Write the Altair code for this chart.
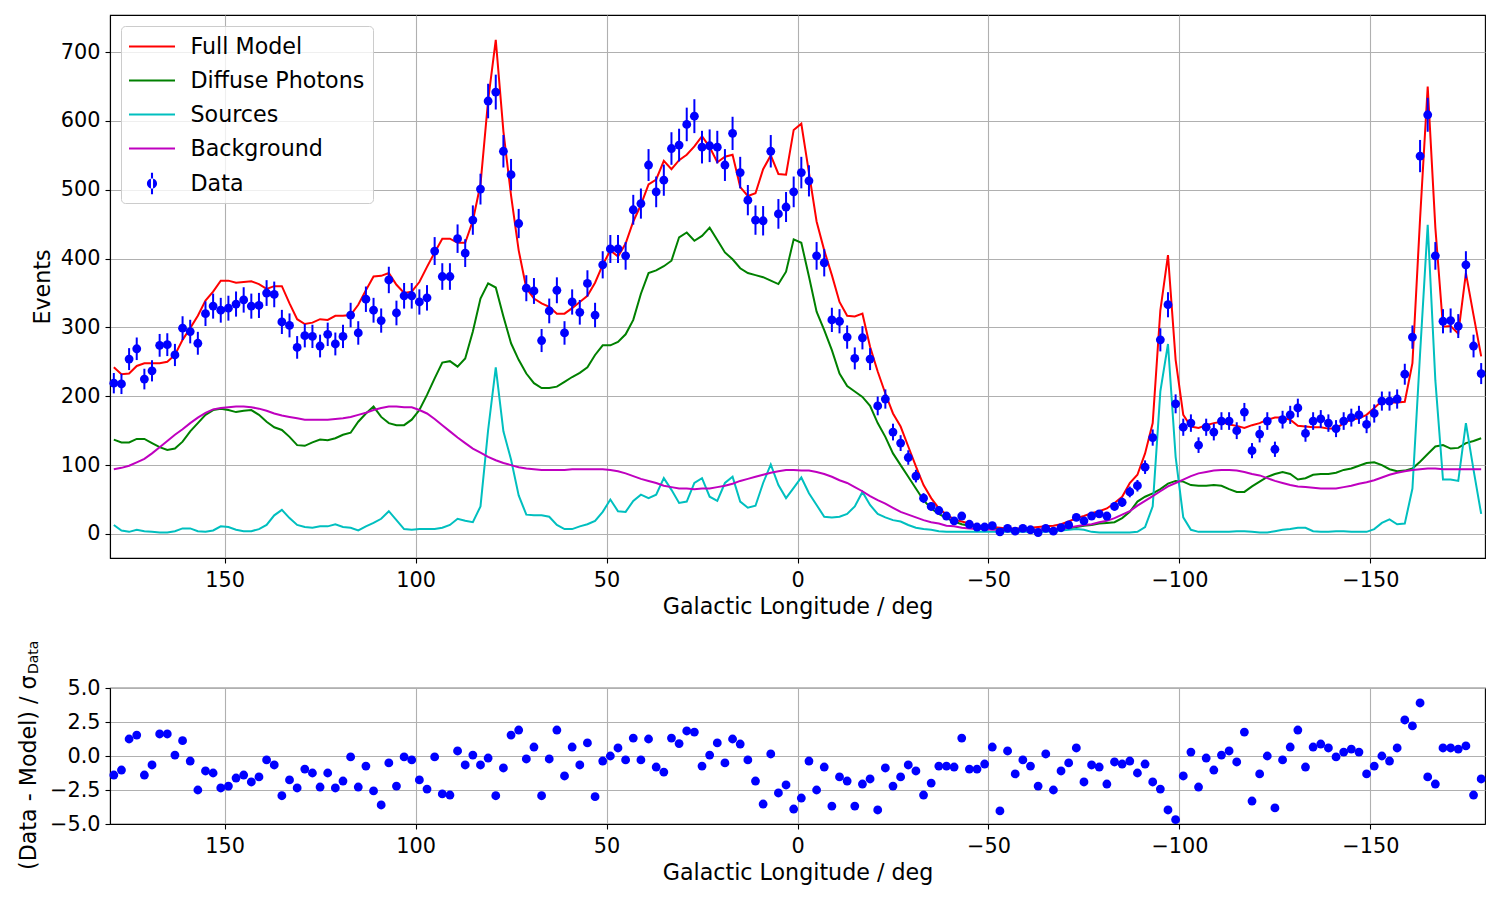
import altair as alt
import pandas as pd

FONT = "DejaVu Sans"

# Galactic longitude bin centres (deg), from +179 down to -179 in 2-degree steps
lon = list(range(179, -180, -2))

# Observed counts per bin (rows of 10 bins)
data_counts = [
    219, 218, 254, 269, 225, 237, 274, 275, 260, 299,
    294, 277, 320, 331, 325, 328, 334, 340, 331, 332,
    350, 348, 308, 303, 271, 288, 287, 273, 290, 276,
    287, 318, 292, 341, 325, 310, 369, 321, 346, 346,
    337, 343, 411, 374, 374, 429, 408, 456, 501, 629,
    642, 556, 522, 451, 357, 353, 281, 324, 354, 292,
    337, 322, 364, 318, 391, 414, 414, 404, 471, 480,
    536, 497, 514, 560, 565, 595, 607, 562, 564, 562,
    536, 582, 525, 485, 456, 455, 556, 465, 475, 497,
    525, 513, 404, 394, 311, 309, 286, 255, 285, 254,
    186, 196, 148, 132, 111, 84, 52, 40, 34, 26,
    19, 26, 14, 10, 10, 12, 3, 8, 4, 8,
    6, 2, 8, 4, 9, 13, 24, 19, 26, 29,
    26, 40, 46, 61, 70, 97, 140, 282, 333, 189,
    155, 161, 129, 155, 148, 164, 164, 150, 177, 121,
    145, 164, 123, 166, 173, 183, 146, 164, 167, 161,
    153, 164, 169, 173, 159, 175, 193, 193, 196, 232,
    286, 549, 609, 404, 309, 310, 302, 391, 273, 233,
]

full_model = [
    242, 232, 233, 244, 248, 248, 248, 250, 260, 282,
    299, 317, 339, 352, 368, 368, 365, 366, 367, 363,
    356, 360, 360, 335, 312, 305, 307, 312, 311, 317,
    317, 318, 333, 354, 374, 375, 379, 362, 350, 352,
    366, 388, 409, 429, 429, 423, 423, 455, 508, 630,
    718, 585, 492, 412, 357, 342, 335, 330, 320, 320,
    328, 337, 346, 365, 391, 412, 403, 422, 454, 478,
    508, 515, 542, 530, 543, 551, 563, 578, 562, 540,
    548, 551, 504, 491, 495, 530, 550, 523, 522, 587,
    596, 525, 454, 412, 376, 337, 317, 316, 320, 272,
    236, 204, 175, 156, 127, 98, 71, 52, 37, 28,
    21, 18, 15, 12, 11, 10, 9, 8, 8, 8,
    9, 10, 11, 12, 14, 18, 23, 26, 30, 33,
    37, 45, 54, 74, 86, 117, 161, 325, 405, 253,
    173, 156, 154, 158, 161, 163, 159, 157, 154, 158,
    161, 166, 169, 169, 166, 157, 156, 155, 155, 153,
    153, 161, 166, 168, 173, 183, 193, 191, 191, 192,
    248, 458, 650, 445, 301, 302, 291, 379, 318, 258,
]

diffuse = [
    137, 133, 133, 138, 138, 132, 126, 122, 124, 134,
    149, 161, 173, 180, 182, 180, 177, 179, 180, 173,
    163, 155, 151, 141, 129, 128, 133, 137, 136, 139,
    144, 147, 163, 175, 185, 170, 161, 158, 158, 166,
    180, 202, 226, 249, 251, 243, 255, 294, 342, 364,
    358, 316, 277, 253, 233, 219, 212, 212, 214, 221,
    228, 234, 242, 260, 274, 274, 279, 290, 311, 349,
    379, 383, 389, 397, 431, 438, 426, 433, 445, 427,
    409, 399, 386, 379, 376, 373, 368, 363, 381, 428,
    423, 374, 323, 296, 267, 233, 215, 207, 199, 186,
    161, 141, 117, 100, 83, 66, 49, 37, 29, 23,
    18, 14, 12, 10, 8, 7, 7, 6, 6, 6,
    6, 6, 6, 6, 7, 8, 10, 12, 13, 15,
    16, 17, 23, 32, 47, 54, 59, 65, 73, 77,
    76, 71, 70, 70, 71, 70, 65, 61, 61, 69,
    76, 83, 87, 90, 87, 79, 81, 86, 87, 87,
    89, 93, 95, 99, 103, 104, 100, 94, 91, 92,
    95, 105, 116, 127, 129, 124, 125, 132, 135, 139,
]

sources = [
    13, 5, 3, 6, 4, 3, 2, 2, 4, 8,
    8, 4, 3, 5, 11, 10, 6, 4, 4, 7,
    13, 27, 35, 23, 13, 10, 9, 11, 11, 14,
    10, 9, 5, 11, 16, 22, 33, 20, 7, 6,
    7, 7, 7, 9, 13, 22, 19, 17, 40, 151,
    242, 149, 108, 56, 28, 27, 27, 25, 13, 7,
    7, 11, 14, 19, 32, 50, 33, 32, 48, 57,
    52, 57, 81, 64, 45, 47, 74, 81, 54, 48,
    74, 83, 47, 38, 41, 74, 101, 71, 52, 67,
    82, 59, 42, 25, 24, 25, 29, 40, 61, 42,
    29, 24, 20, 18, 13, 9, 7, 6, 4, 3,
    3, 3, 3, 3, 3, 3, 3, 3, 3, 3,
    3, 3, 3, 4, 5, 6, 7, 6, 3, 2,
    2, 2, 2, 2, 3, 10, 40, 207, 276, 112,
    24, 6, 3, 3, 3, 3, 3, 4, 4, 3,
    2, 2, 4, 6, 7, 9, 9, 4, 3, 3,
    4, 4, 3, 3, 3, 7, 16, 21, 14, 15,
    66, 262, 449, 223, 79, 79, 77, 161, 93, 29,
]

background = [
    94, 96, 99, 104, 109, 117, 126, 135, 144, 152,
    161, 169, 176, 181, 183, 184, 185, 185, 184, 182,
    179, 175, 172, 170, 168, 166, 166, 166, 166, 167,
    168, 170, 173, 176, 180, 183, 185, 185, 184, 184,
    180, 175, 167, 158, 149, 140, 132, 124, 118, 112,
    107, 103, 100, 97, 95, 94, 93, 93, 93, 93,
    94, 94, 94, 94, 94, 93, 91, 88, 84, 80,
    77, 74, 70, 68, 66, 66, 65, 66, 66, 68,
    70, 73, 77, 80, 83, 86, 89, 91, 93, 93,
    92, 92, 90, 87, 83, 78, 74, 68, 62, 55,
    49, 44, 38, 32, 28, 24, 20, 17, 15, 12,
    11, 9, 8, 7, 7, 6, 6, 6, 6, 6,
    6, 6, 7, 7, 8, 9, 11, 13, 14, 17,
    19, 23, 28, 33, 41, 48, 55, 62, 69, 74,
    79, 84, 88, 90, 92, 93, 93, 92, 90, 87,
    85, 81, 77, 74, 71, 69, 68, 67, 66, 66,
    66, 68, 70, 73, 75, 78, 82, 86, 89, 91,
    93, 94, 95, 95, 94, 94, 94, 94, 94, 94,
]

# (Data - Model) / sigma_Data per bin
residuals = [
    -1.40, -1.03, 1.25, 1.54, -1.40, -0.66, 1.62, 1.62, 0.07, 1.13,
    -0.37, -2.50, -1.10, -1.25, -2.35, -2.21, -1.62, -1.40, -1.91, -1.54,
    -0.29, -0.66, -2.92, -1.76, -2.35, -0.96, -1.25, -2.28, -1.25, -2.35,
    -1.84, -0.07, -2.28, -0.74, -2.57, -3.60, -0.51, -2.21, -0.07, -0.29,
    -1.76, -2.43, -0.07, -2.79, -2.87, 0.37, -0.66, 0.07, -0.66, -0.15,
    -2.92, -0.88, 1.54, 1.91, -0.22, 0.66, -2.92, -0.22, 1.91, -1.47,
    0.66, -0.66, 0.96, -2.99, -0.37, 0.00, 0.59, -0.29, 1.32, -0.29,
    1.25, -0.81, -1.18, 1.32, 0.91, 1.84, 1.76, -0.74, 0.07, 0.96,
    -0.51, 1.25, 0.88, -0.29, -1.84, -3.53, 0.15, -2.72, -2.13, -3.90,
    -3.09, -0.37, -2.50, -0.81, -3.68, -1.54, -1.84, -3.68, -2.06, -1.69,
    -3.97, -0.88, -2.21, -1.54, -0.66, -1.10, -2.87, -1.99, -0.74, -0.74,
    -0.81, 1.32, -0.96, -0.96, -0.59, 0.66, -4.04, 0.37, -1.32, -0.29,
    -0.74, -2.21, 0.15, -2.50, -1.10, -0.51, 0.59, -1.91, -0.66, -0.81,
    -2.06, -0.44, -0.59, -0.37, -1.25, -0.59, -1.91, -2.43, -3.97, -4.68,
    -1.47, 0.29, -2.28, -0.15, -1.03, 0.07, 0.37, -0.44, 1.76, -3.31,
    -1.32, 0.00, -3.82, -0.29, 0.66, 1.91, -0.81, 0.66, 0.88, 0.59,
    -0.07, 0.29, 0.51, 0.29, -1.32, -0.74, 0.00, -0.37, 0.59, 2.65,
    2.21, 3.90, -1.54, -2.06, 0.59, 0.59, 0.51, 0.74, -2.87, -1.69,
]

line_names = ["Full Model", "Diffuse Photons", "Sources", "Background"]
line_colors = ["#ff0000", "#008000", "#00bfbf", "#bf00bf"]
data_label = "Data"
data_color = "#0000ff"
x_ticks = [150, 100, 50, 0, -50, -100, -150]
y_ticks_top = [0, 100, 200, 300, 400, 500, 600, 700]
y_ticks_bottom = [-5, -2.5, 0, 2.5, 5]

lines_df = pd.concat(
    [
        pd.DataFrame({"lon": lon, "value": vals, "series": name})
        for name, vals in zip(line_names, [full_model, diffuse, sources, background])
    ],
    ignore_index=True,
)
data_df = pd.DataFrame({"lon": lon, "counts": data_counts, "resid": residuals,
                        "kind": data_label})

LINE_PATH = "M-2,0L2,0"
DATA_PATH = ("M-0.09,-0.94L0.09,-0.94L0.09,0.94L-0.09,0.94Z"
             "M-0.44,0A0.44,0.44 0 1,0 0.44,0A0.44,0.44 0 1,0 -0.44,0Z")

minus_expr = "replace(format(datum.value, '{fmt}'), '-', '\u2212')"

xscale = alt.Scale(domain=[-180, 180], reverse=True, nice=False, zero=False)


def x_axis():
    return alt.Axis(values=x_ticks, title="Galactic Longitude / deg",
                    labelExpr=minus_expr.format(fmt="d"))


common_legend = dict(
    orient="none", legendX=11, direction="vertical",
    symbolSize=529, symbolStrokeWidth=2, symbolOffset=10.5,
    labelFont=FONT, labelFontSize=22.2, labelColor="black", labelOffset=26,
    labelLimit=400, rowPadding=10, padding=8,
)

legend_lines = alt.Legend(
    title=" ", titleOrient="bottom", titleFontSize=22.2, titlePadding=12,
    legendY=11, symbolType=LINE_PATH,
    fillColor="rgba(255,255,255,0.8)", strokeColor="#cccccc", cornerRadius=4,
    **common_legend,
)

legend_data = alt.Legend(
    title=None, legendY=148, symbolType=DATA_PATH,
    symbolFillColor=data_color, symbolStrokeColor=data_color,
    **common_legend,
)

yscale_top = alt.Scale(domain=[-35, 754], nice=False, zero=False)

lines = alt.Chart(lines_df).mark_line(strokeWidth=2).encode(
    x=alt.X("lon:Q", scale=xscale, axis=x_axis()),
    y=alt.Y("value:Q", scale=yscale_top,
            axis=alt.Axis(values=y_ticks_top, title="Events", format="d")),
    color=alt.Color("series:N", scale=alt.Scale(domain=line_names, range=line_colors),
                    legend=legend_lines, sort=line_names),
)

errbars = alt.Chart(data_df).transform_calculate(
    lo="datum.counts - sqrt(datum.counts)",
    hi="datum.counts + sqrt(datum.counts)",
).mark_rule(color=data_color, strokeWidth=2).encode(
    x=alt.X("lon:Q", scale=xscale),
    y=alt.Y("lo:Q", scale=yscale_top),
    y2="hi:Q",
)

points = alt.Chart(data_df).mark_circle(size=78, color=data_color).encode(
    x=alt.X("lon:Q", scale=xscale),
    y=alt.Y("counts:Q", scale=yscale_top),
    opacity=alt.Opacity("kind:N", scale=alt.Scale(domain=[data_label], range=[1.0]),
                        legend=legend_data),
)

top = alt.layer(lines, errbars, points).properties(width=1375, height=543)

resid_points = alt.Chart(data_df).mark_circle(size=78, color=data_color, opacity=1).encode(
    x=alt.X("lon:Q", scale=xscale, axis=x_axis()),
    y=alt.Y("resid:Q", scale=alt.Scale(domain=[-5, 5], nice=False, zero=False),
            axis=alt.Axis(values=y_ticks_bottom, title=None,
                          labelExpr=minus_expr.format(fmt=".1f"))),
)

title_main = alt.Chart(pd.DataFrame({"t": ["(Data - Model) / \u03c3"]})).mark_text(
    angle=270, align="left", baseline="alphabetic", font=FONT, fontSize=22.2, color="black"
).encode(text="t:N", x=alt.value(-74.5), y=alt.value(182))

title_sub = alt.Chart(pd.DataFrame({"t": ["Data"]})).mark_text(
    angle=270, align="left", baseline="alphabetic", font=FONT, fontSize=14, color="black"
).encode(text="t:N", x=alt.value(-72.5), y=alt.value(-14))

bottom = alt.layer(resid_points, title_main, title_sub).properties(width=1375, height=136)

chart = alt.vconcat(top, bottom, spacing=21).properties(
    padding={"left": 8, "top": 6, "right": 5, "bottom": 5}
).configure_axis(
    labelFont=FONT, labelFontSize=20.8, labelColor="black",
    titleFont=FONT, titleFontSize=22.2, titleFontWeight="normal", titleColor="black",
    tickColor="black", tickSize=5, tickWidth=1.1,
    domainColor="black", domainWidth=1.1,
    gridColor="#b0b0b0", gridWidth=1.1, grid=True,
    labelFlush=False, labelOverlap=False,
).configure_axisX(labelPadding=7, titlePadding=6).configure_axisY(
    labelPadding=5, titlePadding=6
).configure_view(stroke="black", strokeWidth=1.1)

chart.save("out.html", embed_options={"renderer": "svg", "actions": False})
